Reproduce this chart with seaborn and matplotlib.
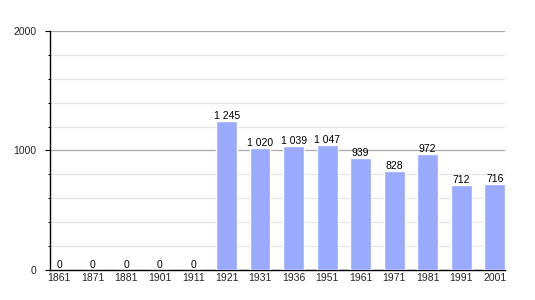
import matplotlib
matplotlib.use("Agg")
import matplotlib.pyplot as plt
import seaborn as sns
import pandas as pd
from matplotlib.ticker import MultipleLocator

years = ["1861", "1871", "1881", "1901", "1911", "1921", "1931", "1936",
         "1951", "1961", "1971", "1981", "1991", "2001"]
population = [0, 0, 0, 0, 0, 1245, 1020, 1039, 1047, 939, 828, 972, 712, 716]
labels = ["0", "0", "0", "0", "0", "1 245", "1 020", "1 039", "1 047",
          "939", "828", "972", "712", "716"]

df = pd.DataFrame({"year": years, "pop": population})

sns.set_style("white")
plt.rcParams['font.family'] = ['Liberation Sans', 'DejaVu Sans']

fig = plt.figure(figsize=(5.35, 3.0), dpi=100)
ax = fig.add_axes([0.0935, 0.1, 0.8505, 0.797])

sns.barplot(data=df, x="year", y="pop", order=years, color="#99aaff",
            saturation=1, width=0.62, ax=ax, zorder=3)

ax.set_ylim(0, 2000)
ax.set_xlim(-0.27, 13.31)
ax.yaxis.set_major_locator(MultipleLocator(1000))
ax.yaxis.set_minor_locator(MultipleLocator(200))
ax.grid(axis="y", which="major", color="#aaaaaa", linewidth=0.9, zorder=0)
ax.grid(axis="y", which="minor", color="#e6e6e6", linewidth=0.9, zorder=0)
ax.set_axisbelow(True)

for s in ["top", "right"]:
    ax.spines[s].set_visible(False)
ax.spines["left"].set_color("black")
ax.spines["bottom"].set_color("black")
ax.spines["left"].set_linewidth(1.0)
ax.spines["bottom"].set_linewidth(1.0)

ax.tick_params(axis="y", which="major", length=3.6, width=0.8, color="black",
               labelsize=7.5, left=True, pad=6)
ax.tick_params(axis="y", which="minor", length=1.6, width=0.8, color="black", left=True)
ax.tick_params(axis="x", length=0, labelsize=7.5, pad=2)
ax.set_xlabel("")
ax.set_ylabel("")

for i, (v, lab) in enumerate(zip(population, labels)):
    ax.text(i, v, lab, ha="center", va="bottom", fontsize=7.5, color="black", zorder=5)

fig.savefig("out.png", dpi=100)
